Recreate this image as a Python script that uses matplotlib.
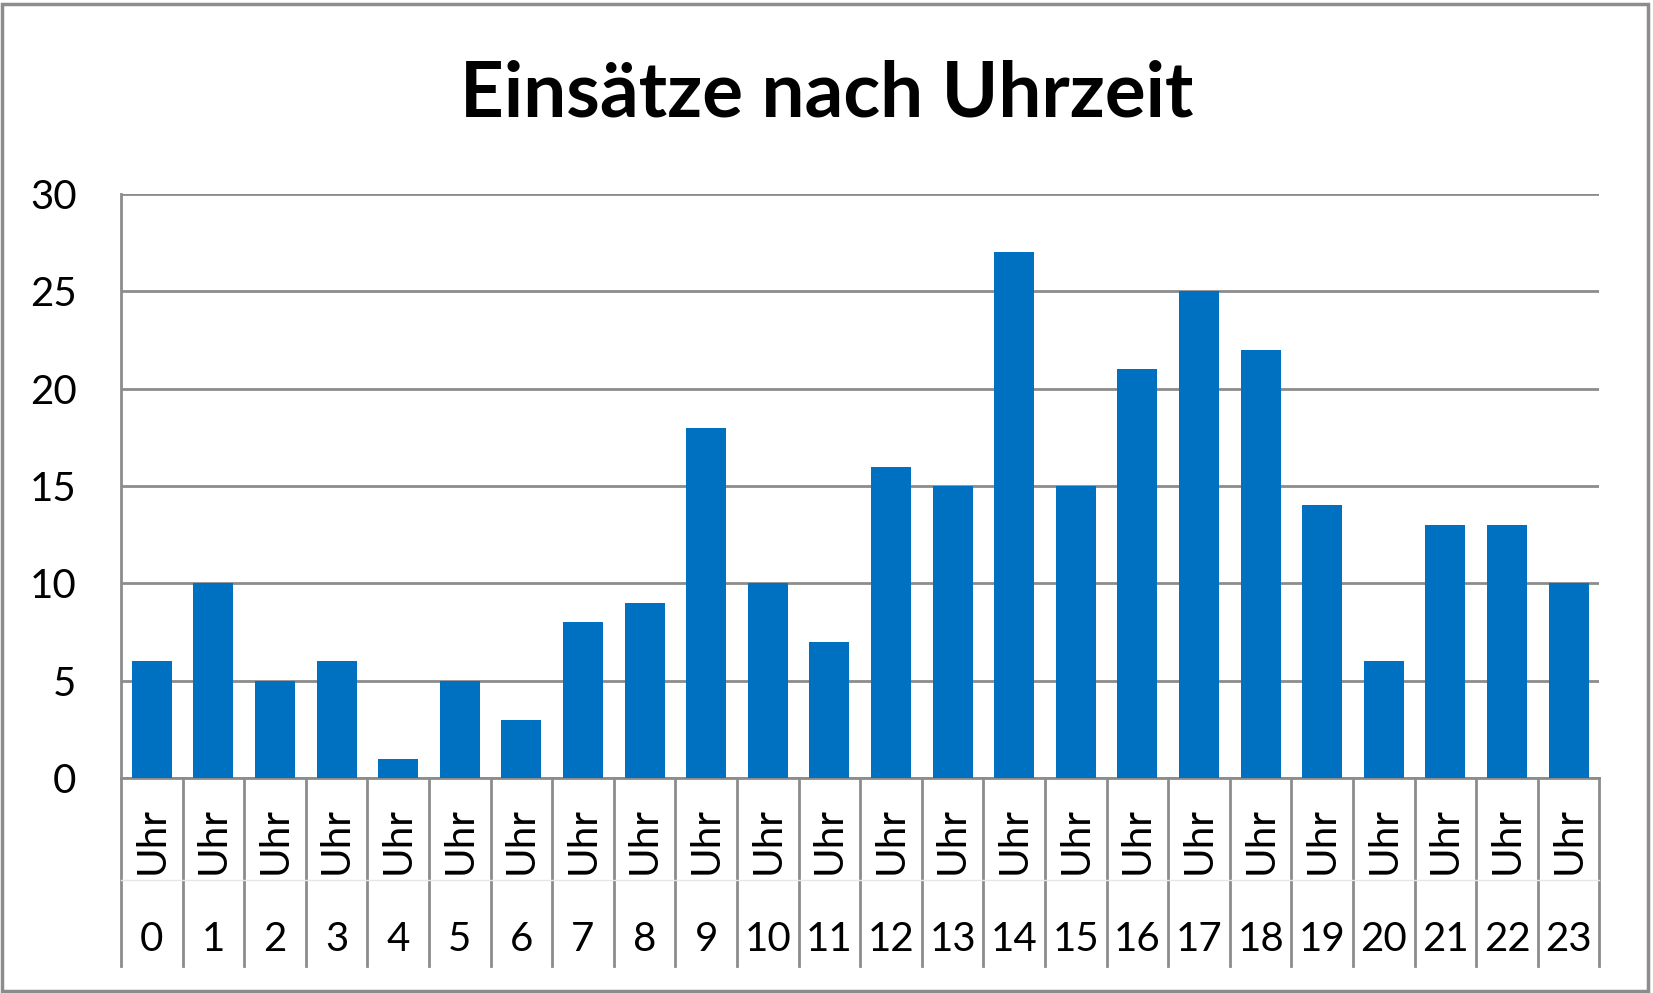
import matplotlib
matplotlib.use("Agg")
import matplotlib.pyplot as plt
import matplotlib.transforms as mtransforms
from matplotlib.patches import Rectangle

plt.rcParams['font.family'] = ['Lato', 'DejaVu Sans']

hours = [str(h) for h in range(24)]
einsaetze = [6, 10, 5, 6, 1, 5, 3, 8, 9, 18, 10, 7, 16, 15, 27, 15, 21, 25, 22, 14, 6, 13, 13, 10]
yticks = [0, 5, 10, 15, 20, 25, 30]
title = "Einsätze nach Uhrzeit"

grey = '#8c8c8c'
blue = '#0070C0'

fig = plt.figure(figsize=(16.53, 9.93), dpi=100)
ax = fig.add_axes([0.0732, 0.2165, 0.8944, 0.5881])

x = list(range(len(hours)))
ax.bar(x, einsaetze, width=0.65, color=blue, zorder=3)
ax.set_xlim(-0.5, len(hours) - 0.5)
ax.set_ylim(0, 30)
ax.set_yticks(yticks)
ax.yaxis.grid(True, color=grey, lw=2)
ax.set_axisbelow(True)
for s in ['top', 'right']:
    ax.spines[s].set_visible(False)
for s in ['left', 'bottom']:
    ax.spines[s].set_color(grey)
    ax.spines[s].set_linewidth(2)
ax.tick_params(axis='y', length=0, pad=32, labelsize=29)
ax.set_xticks([])

# category labels and separators below the axis
trans = mtransforms.blended_transform_factory(ax.transData, ax.transAxes)
for i in range(len(hours) + 1):
    ax.plot([i - 0.5, i - 0.5], [0, -0.322], transform=trans, color=grey,
            lw=2, clip_on=False)
ax.plot([-0.5, len(hours) - 0.5], [-0.175, -0.175], transform=trans,
        color='#e6e6e6', lw=1, clip_on=False)
for i, h in enumerate(hours):
    ax.text(i, -0.107, "Uhr", transform=trans, rotation=90, ha='center',
            va='center', fontsize=29)
    ax.text(i, -0.277, h, transform=trans, ha='center', va='center',
            fontsize=29)

fig.text(0.5, 0.905, title, ha='center', va='center', fontsize=55,
         fontweight='bold')

fig.patches.append(Rectangle((0.001, 0.002), 0.996, 0.994,
                             transform=fig.transFigure, fill=False,
                             edgecolor=grey, lw=2.5))

fig.savefig("out.png", dpi=100)
